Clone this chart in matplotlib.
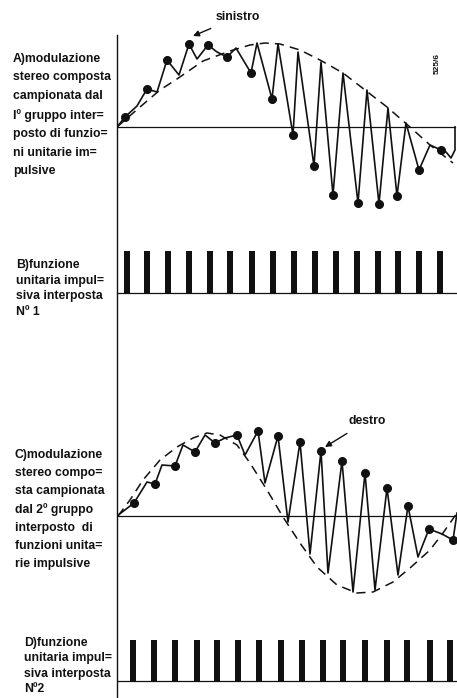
import numpy as np
import matplotlib
matplotlib.use("Agg")
import matplotlib.pyplot as plt
from matplotlib.lines import Line2D

# time axis in drawing units (0 = left axis, 340 = right end)
# pulse positions of the two interposed unit impulse trains
pulses_1 = [10, 30, 51, 72, 93, 113, 135, 156, 177, 198, 219, 240, 261, 281, 302, 323]
pulses_2 = [16, 37, 58, 80, 100, 121, 142, 164, 185, 206, 226, 248, 270, 290, 313, 333]

# A) composite stereo signal sampled by group 1
wave_a_x = [0, 8, 20, 30, 40, 50, 62, 72, 80, 91, 100, 110, 119, 134, 140, 155, 161, 176, 181,
            197, 204, 216, 226, 241, 250, 262, 271, 280, 289, 302, 313, 324, 329, 334, 338, 338]
wave_a_y = [0, 10, 21, 38, 35, 67, 52, 83, 68, 82, 75, 70, 79, 54, 84, 28, 83, -8, 75,
            -39, 65, -68, 54, -76, 37, -77, 19, -69, 4, -43, -18, -23, -25, -31, -23, 0]
dots_a_y = [10, 38, 67, 83, 82, 70, 54, 28, -8, -39, -68, -76, -77, -69, -43, -23]
dots_a_x = [8, 30, 50, 72, 91, 110, 134, 155, 176, 197, 216, 241, 262, 280, 302, 324]
env_a_x = [0, 23, 43, 60, 86, 113, 133, 148, 163, 183, 203, 226, 248, 270, 293, 313, 336]
env_a_y = [0, 20, 37, 48, 66, 76, 82, 84, 83, 77, 67, 54, 37, 20, 0, -18, -36]

# C) composite stereo signal sampled by group 2
wave_c_x = [0, 17, 30, 38, 45, 58, 66, 78, 88, 98, 108, 120, 128, 141, 148, 161, 171, 183, 193,
            204, 211, 225, 236, 248, 258, 270, 281, 291, 301, 312, 325, 336, 340]
wave_c_y = [0, 13, 34, 32, 51, 50, 71, 64, 81, 73, 78, 81, 61, 85, 33, 80, -6, 74, -38,
            65, -57, 55, -76, 43, -74, 28, -59, 10, -41, -13, -18, -24, 3]
dots_c_x = [17, 38, 58, 78, 98, 120, 141, 161, 183, 204, 225, 248, 270, 291, 312, 336]
dots_c_y = [13, 32, 50, 64, 73, 81, 85, 80, 74, 65, 55, 43, 28, 10, -13, -24]
env_c_x = [1, 13, 26, 43, 60, 76, 90, 103, 120, 133, 150, 166, 183, 200, 220, 240, 256, 276,
           293, 313, 326, 340]
env_c_y = [0, 16, 36, 56, 69, 78, 83, 81, 71, 53, 26, -1, -27, -51, -69, -77, -76, -66,
           -52, -34, -17, 3]

label_a = "A)modulazione\nstereo composta\ncampionata dal\nIº gruppo inter=\nposto di funzio=\nni unitarie im=\npulsive"
label_b = "B)funzione\nunitaria impul=\nsiva interposta\nNº 1"
label_c = "C)modulazione\nstereo compo=\nsta campionata\ndal 2º gruppo\ninterposto  di\nfunzioni unita=\nrie impulsive"
label_d = "D)funzione\nunitaria impul=\nsiva interposta\nNº2"

W, H = 457, 698
fig = plt.figure(figsize=(W / 100, H / 100), dpi=100)
fig.patch.set_facecolor("white")


def add_panel(top, bottom):
    ax = fig.add_axes([117 / W, 1 - bottom / H, 340 / W, (bottom - top) / H])
    ax.set_xlim(0, 340)
    ax.axis("off")
    return ax


ink = "#111111"
font = ["Liberation Sans", "DejaVu Sans"]

# top panel
ax1 = add_panel(0, 225)
ax1.set_ylim(-98, 127)
ax1.plot([0, 338], [0, 0], color=ink, lw=0.9)
ax1.plot(env_a_x, env_a_y, color=ink, lw=1.1, ls=(0, (6, 4)))
ax1.plot(wave_a_x, wave_a_y, color=ink, lw=1.2)
ax1.plot(dots_a_x, dots_a_y, "o", color=ink, ms=5.5)
ax1.annotate("sinistro", xy=(76, 91), xytext=(121, 110), fontsize=8.8, fontweight="bold",
             family=font, ha="center", va="center", color=ink,
             arrowprops=dict(arrowstyle="-|>", color=ink, lw=1, shrinkA=5, shrinkB=0))
ax1.text(320, 64, "525/6", rotation=90, fontsize=6, fontweight="bold", family=font,
         ha="center", va="center", color=ink)

# pulse train 1
ax2 = add_panel(225, 330)
ax2.set_ylim(-37 / 42, 68 / 42)
ax2.bar(pulses_1, [1] * len(pulses_1), width=6, bottom=0, color=ink)
ax2.plot([0, 340], [0, 0], color=ink, lw=0.9)

# bottom panel
ax3 = add_panel(330, 600)
ax3.set_ylim(-84, 186)
ax3.plot([0, 340], [0, 0], color=ink, lw=0.9)
ax3.plot(env_c_x, env_c_y, color=ink, lw=1.1, ls=(0, (6, 4)))
ax3.plot(wave_c_x, wave_c_y, color=ink, lw=1.2)
ax3.plot(dots_c_x, dots_c_y, "o", color=ink, ms=5.5)
ax3.annotate("destro", xy=(208, 69), xytext=(250, 95), fontsize=8.8, fontweight="bold",
             family=font, ha="center", va="center", color=ink,
             arrowprops=dict(arrowstyle="-|>", color=ink, lw=1, shrinkA=5, shrinkB=0))

# pulse train 2
ax4 = add_panel(600, 698)
ax4.set_ylim(-17 / 41, 81 / 41)
ax4.bar(pulses_2, [1] * len(pulses_2), width=6, bottom=0, color=ink)
ax4.plot([0, 340], [0, 0], color=ink, lw=0.9)

# vertical axis shared by all panels
fig.add_artist(Line2D([117 / W, 117 / W], [0, 1 - 35 / H], color=ink, lw=1.0))

txt = dict(fontweight="bold", color=ink, ha="left", va="top", family=font)
fig.text(13 / W, 1 - 53 / H, label_a, fontsize=8.8, linespacing=1.71, **txt)
fig.text(16 / W, 1 - 259 / H, label_b, fontsize=8.8, linespacing=1.40, **txt)
fig.text(15 / W, 1 - 449 / H, label_c, fontsize=8.8, linespacing=1.66, **txt)
fig.text(24 / W, 1 - 637 / H, label_d, fontsize=8.8, linespacing=1.38, **txt)

fig.savefig("out.png", dpi=100, facecolor="white")
